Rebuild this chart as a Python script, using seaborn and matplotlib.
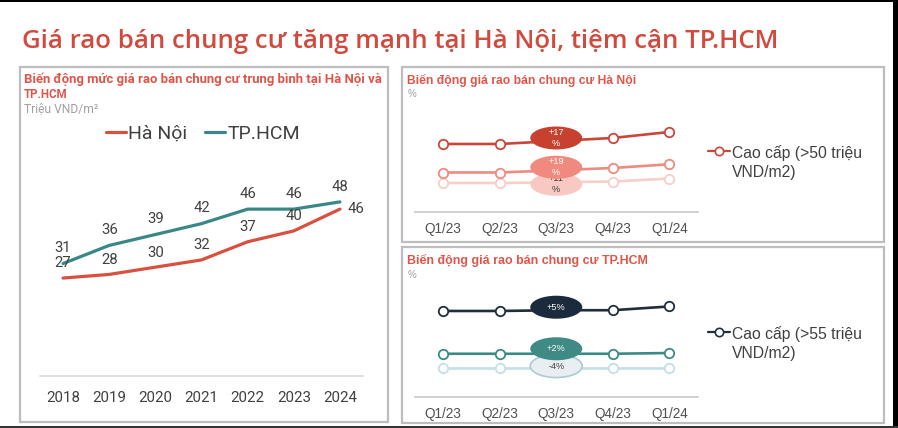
import matplotlib
matplotlib.use("Agg")
import matplotlib.pyplot as plt
import seaborn as sns
import pandas as pd
from matplotlib.patches import Rectangle, Ellipse
from matplotlib.lines import Line2D

# ---------------- data ----------------
years = ["2018", "2019", "2020", "2021", "2022", "2023", "2024"]
hanoi_avg = [27, 28, 30, 32, 37, 40, 46]
hcm_avg = [31, 36, 39, 42, 46, 46, 48]

quarters = ["Q1/23", "Q2/23", "Q3/23", "Q4/23", "Q1/24"]
hn_cao_cap = [64, 64, 66, 68, 72]
hn_trung_cap = [45, 45, 46.5, 48, 50.5]
hn_binh_dan = [38, 38, 38.5, 39, 41]
hn_change = ["+17\n%", "+19\n%", "+11\n%"]

hcm_cao_cap = [70, 70, 70.5, 70.5, 73]
hcm_trung_cap = [41.5, 41.5, 41.5, 41.5, 42]
hcm_binh_dan = [32, 32, 32, 32, 32]
hcm_change = ["+5%", "+2%", "-4%"]

# ---------------- style ----------------
sns.set_theme(style="white")
plt.rcParams["font.family"] = ["Roboto", "DejaVu Sans"]

W, H = 898, 428
fig = plt.figure(figsize=(W / 100, H / 100), dpi=100)
fig.patch.set_facecolor("white")

RED_T = "#D24A3E"
GRAY_BOX = "#BDBDBD"
TXT = "#404040"


def ax_px(x0, y0, x1, y1):
    return fig.add_axes([x0 / W, 1 - y1 / H, (x1 - x0) / W, (y1 - y0) / H])


def ftext(x, y, s, width_px=None, **kw):
    t = fig.text(x / W, 1 - y / H, s, **kw)
    if width_px is not None:
        r = fig.canvas.get_renderer()
        w = t.get_window_extent(r).width
        t.set_fontsize(t.get_fontsize() * width_px / w)
    return t


# ---------------- frame & panels ----------------
fig.add_artist(Rectangle((0, 1 - 2 / H), 1, 2 / H, transform=fig.transFigure,
                         color="black", lw=0))
fig.add_artist(Rectangle((893 / W, 0), 5 / W, 1, transform=fig.transFigure,
                         color="black", lw=0))
fig.add_artist(Rectangle((0, 0), 1, 2 / H, transform=fig.transFigure,
                         color="#333333", lw=0))
for (x0, y0, x1, y1) in [(20, 67, 388, 422), (402, 67, 884, 242), (402, 247, 884, 423)]:
    fig.add_artist(Rectangle((x0 / W, 1 - y1 / H), (x1 - x0) / W, (y1 - y0) / H,
                             transform=fig.transFigure, fill=False,
                             ec=GRAY_BOX, lw=1.6))

# ---------------- title ----------------
ftext(22, 48, "Giá rao bán chung cư tăng mạnh tại Hà Nội, tiệm cận TP.HCM",
      width_px=753, family=["Open Sans", "DejaVu Sans"], fontweight="semibold",
      color=RED_T, fontsize=20, va="baseline")

# ---------------- left chart ----------------
ftext(24, 83, "Biến động mức giá rao bán chung cư trung bình tại Hà Nội và",
      width_px=358, fontweight="bold", color="#E0554A", fontsize=8, va="baseline")
ftext(24, 98, "TP.HCM", fontweight="bold", color="#E0554A", fontsize=8.3, va="baseline")
ftext(24, 112, "Triệu VND/m²", width_px=74, color="#A0A0A0", fontsize=7, va="baseline")

HN_COL = "#D9503F"
HCM_COL = "#3A8787"

axL = ax_px(40, 150, 363, 376)
df = pd.DataFrame({
    "x": list(range(len(years))) * 2,
    "value": hanoi_avg + hcm_avg,
    "city": ["Hà Nội"] * len(years) + ["TP.HCM"] * len(years),
})
sns.lineplot(data=df, x="x", y="value", hue="city",
             palette={"Hà Nội": HN_COL, "TP.HCM": HCM_COL},
             linewidth=2.3, ax=axL, legend=False)
axL.set_xlim(-0.5, len(years) - 0.5)
axL.set_ylim(0, 62.3)
axL.set_xticks(range(len(years)))
axL.set_xticklabels(years)
axL.set_yticks([])
axL.set_xlabel("")
axL.set_ylabel("")
axL.tick_params(axis="x", length=0, pad=10.5, labelsize=10.8, labelcolor=TXT)
for s in ["top", "left", "right"]:
    axL.spines[s].set_visible(False)
axL.spines["bottom"].set_color("#DADADA")
axL.spines["bottom"].set_linewidth(1.2)
axL.patch.set_alpha(0)

for i, v in enumerate(hcm_avg):
    axL.annotate(str(v), (i, v), xytext=(0, 11), textcoords="offset points",
                 ha="center", va="center", fontsize=10.7, color=TXT)
for i, v in enumerate(hanoi_avg):
    off = (11.5, 0) if i == len(hanoi_avg) - 1 else (0, 10.5)
    axL.annotate(str(v), (i, v), xytext=off, textcoords="offset points",
                 ha="center", va="center", fontsize=10.7, color=TXT)

legL = axL.legend(handles=[Line2D([], [], color=HN_COL, lw=2.3, label="Hà Nội"),
                           Line2D([], [], color=HCM_COL, lw=2.3, label="TP.HCM")],
                  loc="center", bbox_to_anchor=(203 / W, 1 - 134 / H),
                  bbox_transform=fig.transFigure, ncol=2, frameon=False,
                  fontsize=14, handlelength=1.05, handletextpad=0.12,
                  columnspacing=0.9, labelcolor=TXT)

# ---------------- right charts ----------------
ARIAL = ["Liberation Sans", "DejaVu Sans"]


def seg_panel(y_top, y_bot, ylim, series, colors, ell_fc, ell_ec, ell_tc,
              ell_dy_px, labels):
    ax = ax_px(415, y_top, 697.5, y_bot)
    xs = list(range(len(quarters)))
    for vals, c, z in zip(series, colors, [4, 3, 2]):
        sns.lineplot(x=xs, y=vals, color=c, linewidth=1.9, marker="o",
                     markersize=6.8, markerfacecolor="white",
                     markeredgecolor=c, markeredgewidth=1.3, ax=ax, zorder=z)
    ax.set_xlim(-0.5, len(quarters) - 0.5)
    ax.set_ylim(*ylim)
    ax.set_xticks(xs)
    ax.set_xticklabels(quarters, family=ARIAL)
    ax.set_yticks([])
    ax.tick_params(axis="x", length=0, pad=7.5, labelsize=9.8, labelcolor="#505050")
    for s in ["top", "left", "right"]:
        ax.spines[s].set_visible(False)
    ax.spines["bottom"].set_color("#C8C8C8")
    ax.spines["bottom"].set_linewidth(1.2)
    ax.patch.set_alpha(0)
    ppu = (y_bot - y_top) / (ylim[1] - ylim[0])   # pixels per y unit
    xpu = (697.5 - 415) / len(quarters)
    for k, (vals, fc, ec, tc, dy, lab, z) in enumerate(
            zip(series, ell_fc, ell_ec, ell_tc, ell_dy_px, labels, [12, 11, 10])):
        cy = vals[2] + dy / ppu
        ax.add_patch(Ellipse((2, cy), 52 / xpu, 23 / ppu, fc=fc, ec=ec,
                             lw=1.2, zorder=z))
        ax.text(2, cy, lab, ha="center", va="center", color=tc, fontsize=6.6,
                family=ARIAL, linespacing=1.3, zorder=z + 0.5)
    return ax


# Ha Noi
ftext(407, 84, "Biến động giá rao bán chung cư Hà Nội", width_px=228,
      fontweight="bold", color="#E0554A", fontsize=8, va="baseline", family=ARIAL)
ftext(408, 97, "%", color="#A0A0A0", fontsize=7, va="baseline", family=ARIAL)
hn_cols = ["#C9473A", "#EE8A7F", "#F8CEC8"]
seg_panel(100, 212, (18.7, 93.3), [hn_cao_cap, hn_trung_cap, hn_binh_dan],
          hn_cols, ["#C8412F", "#F08A7E", "#F7C9C2"], ["none", "none", "none"],
          ["white", "white", "#404040"], [3, 3, -2], hn_change)

# HCM
ftext(407, 264, "Biến động giá rao bán chung cư TP.HCM", width_px=240,
      fontweight="bold", color="#E0554A", fontsize=8, va="baseline", family=ARIAL)
ftext(408, 278, "%", color="#A0A0A0", fontsize=7, va="baseline", family=ARIAL)
hcm_cols = ["#1F2D3D", "#3B8A85", "#C3E0E5"]
seg_panel(285, 397, (12.7, 87.3), [hcm_cao_cap, hcm_trung_cap, hcm_binh_dan],
          hcm_cols, ["#1B2A3C", "#3F8A85", "#E8EEF2"], ["none", "none", "#A9CBD6"],
          ["white", "white", "#404040"], [3, 5, 2], hcm_change)

# right-side legends (manual)
for (ly, col, txt) in [(151, hn_cols[0], "Cao cấp (>50 triệu\nVND/m2)"),
                       (332, hcm_cols[0], "Cao cấp (>55 triệu\nVND/m2)")]:
    fig.add_artist(Line2D([708 / W, 730 / W], [1 - ly / H, 1 - ly / H],
                          transform=fig.transFigure, color=col, lw=1.6))
    fig.add_artist(Line2D([719 / W], [1 - ly / H], transform=fig.transFigure,
                          marker="o", markersize=6, markerfacecolor="white",
                          markeredgecolor=col, markeredgewidth=1.2, lw=0))
    ftext(732, ly - 6, txt, color=TXT, fontsize=11.3, va="top", family=ARIAL,
          linespacing=1.3)

fig.savefig("out.png", dpi=100, facecolor="white")
